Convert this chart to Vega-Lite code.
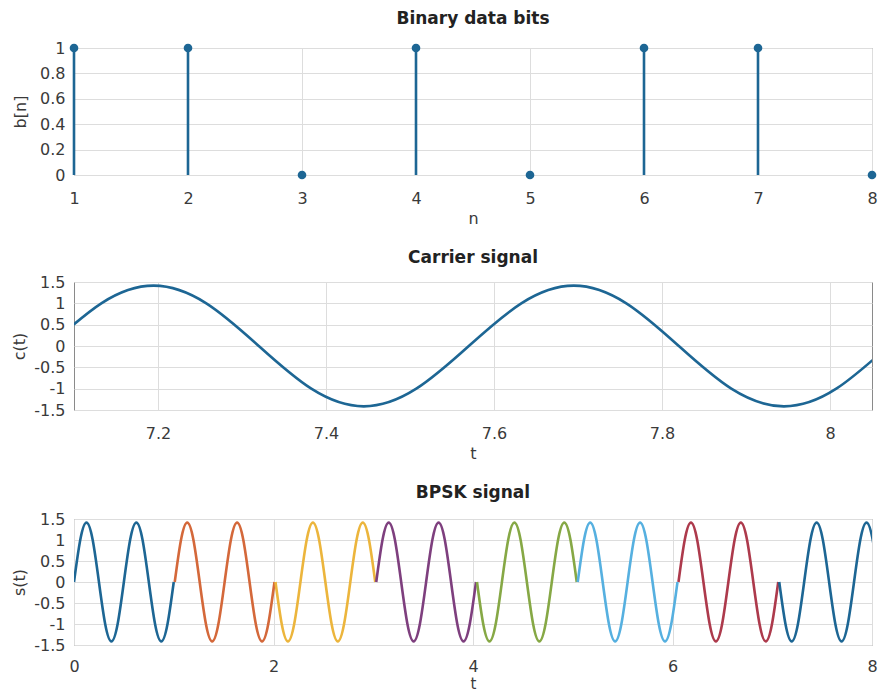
{
  "$schema": "https://vega.github.io/schema/vega-lite/v6.json",
  "padding": {"left": 11, "top": 9, "right": 4, "bottom": 0},
  "spacing": 21,
  "config": {
    "font": "DejaVu Sans",
    "view": {"stroke": "#8a8a8a", "strokeWidth": 1},
    "axis": {
      "labelFont": "DejaVu Sans", "labelFontSize": 16, "labelColor": "#3a3a3a",
      "titleFont": "DejaVu Sans", "titleFontSize": 16, "titleFontWeight": "normal", "titleColor": "#3a3a3a",
      "gridColor": "#dddddd", "gridWidth": 1, "domain": false, "ticks": false,
      "labelFlush": false, "labelOverlap": false
    },
    "axisX": {"labelPadding": 15, "titlePadding": 4},
    "axisY": {"labelPadding": 9},
    "title": {"font": "DejaVu Sans", "fontSize": 17, "fontWeight": "bold", "color": "#222222"}
  },
  "vconcat": [
    {
      "width": 798, "height": 127,
      "title": {"text": "Binary data bits", "offset": 12},
      "data": {"values": [
        {"n": 1, "b": 1}, {"n": 2, "b": 1}, {"n": 3, "b": 0}, {"n": 4, "b": 1},
        {"n": 5, "b": 0}, {"n": 6, "b": 1}, {"n": 7, "b": 1}, {"n": 8, "b": 0}
      ]},
      "encoding": {
        "x": {"field": "n", "type": "quantitative", "scale": {"domain": [1, 8], "nice": false},
              "axis": {"values": [1, 2, 3, 4, 5, 6, 7, 8], "title": "n"}},
        "y": {"field": "b", "type": "quantitative", "scale": {"domain": [0, 1], "nice": false},
              "axis": {"values": [0, 0.2, 0.4, 0.6, 0.8, 1], "labelExpr": "datum.value + ''", "title": "b[n]", "titlePadding": 11}}
      },
      "layer": [
        {"mark": {"type": "rule", "color": "#1d6694", "strokeWidth": 2.6}, "encoding": {"y2": {"datum": 0}}},
        {"mark": {"type": "point", "filled": true, "size": 75, "color": "#1d6694", "opacity": 1}}
      ]
    },
    {
      "width": 798, "height": 128,
      "title": {"text": "Carrier signal", "offset": 7},
      "data": {"values": [
        {"t": 7.0075, "c": -1}, {"t": 7.07, "c": 0}, {"t": 7.1325, "c": 1}, {"t": 7.195, "c": 1.414},
        {"t": 7.2575, "c": 1}, {"t": 7.32, "c": 0}, {"t": 7.3825, "c": -1}, {"t": 7.445, "c": -1.414},
        {"t": 7.5075, "c": -1}, {"t": 7.57, "c": 0}, {"t": 7.6325, "c": 1}, {"t": 7.695, "c": 1.414},
        {"t": 7.7575, "c": 1}, {"t": 7.82, "c": 0}, {"t": 7.8825, "c": -1}, {"t": 7.945, "c": -1.414},
        {"t": 8.0075, "c": -1}, {"t": 8.07, "c": 0}, {"t": 8.1325, "c": 1}
      ]},
      "mark": {"type": "line", "color": "#1d6694", "strokeWidth": 2.6, "interpolate": "natural", "clip": true},
      "encoding": {
        "x": {"field": "t", "type": "quantitative", "scale": {"domain": [7.1, 8.05], "nice": false, "zero": false},
              "axis": {"values": [7.2, 7.4, 7.6, 7.8, 8], "labelExpr": "datum.value + ''", "title": "t"}},
        "y": {"field": "c", "type": "quantitative", "scale": {"domain": [-1.5, 1.5], "nice": false},
              "axis": {"values": [-1.5, -1, -0.5, 0, 0.5, 1, 1.5], "labelExpr": "datum.value + ''", "title": "c(t)", "titlePadding": 6}}
      }
    },
    {
      "width": 798, "height": 126,
      "title": {"text": "BPSK signal", "offset": 9},
      "data": {"values": [
        {"seg": "1", "t": 0, "s": 0}, {"seg": "1", "t": 0.0625, "s": 1}, {"seg": "1", "t": 0.125, "s": 1.414}, {"seg": "1", "t": 0.1875, "s": 1},
        {"seg": "1", "t": 0.25, "s": 0}, {"seg": "1", "t": 0.3125, "s": -1}, {"seg": "1", "t": 0.375, "s": -1.414}, {"seg": "1", "t": 0.4375, "s": -1},
        {"seg": "1", "t": 0.5, "s": 0}, {"seg": "1", "t": 0.5625, "s": 1}, {"seg": "1", "t": 0.625, "s": 1.414}, {"seg": "1", "t": 0.6875, "s": 1},
        {"seg": "1", "t": 0.75, "s": 0}, {"seg": "1", "t": 0.8125, "s": -1}, {"seg": "1", "t": 0.875, "s": -1.414}, {"seg": "1", "t": 0.9375, "s": -1},
        {"seg": "1", "t": 1, "s": 0},

        {"seg": "2", "t": 1.01, "s": 0}, {"seg": "2", "t": 1.0725, "s": 1}, {"seg": "2", "t": 1.135, "s": 1.414}, {"seg": "2", "t": 1.1975, "s": 1},
        {"seg": "2", "t": 1.26, "s": 0}, {"seg": "2", "t": 1.3225, "s": -1}, {"seg": "2", "t": 1.385, "s": -1.414}, {"seg": "2", "t": 1.4475, "s": -1},
        {"seg": "2", "t": 1.51, "s": 0}, {"seg": "2", "t": 1.5725, "s": 1}, {"seg": "2", "t": 1.635, "s": 1.414}, {"seg": "2", "t": 1.6975, "s": 1},
        {"seg": "2", "t": 1.76, "s": 0}, {"seg": "2", "t": 1.8225, "s": -1}, {"seg": "2", "t": 1.885, "s": -1.414}, {"seg": "2", "t": 1.9475, "s": -1},
        {"seg": "2", "t": 2.01, "s": 0},

        {"seg": "3", "t": 2.02, "s": 0}, {"seg": "3", "t": 2.0825, "s": -1}, {"seg": "3", "t": 2.145, "s": -1.414}, {"seg": "3", "t": 2.2075, "s": -1},
        {"seg": "3", "t": 2.27, "s": 0}, {"seg": "3", "t": 2.3325, "s": 1}, {"seg": "3", "t": 2.395, "s": 1.414}, {"seg": "3", "t": 2.4575, "s": 1},
        {"seg": "3", "t": 2.52, "s": 0}, {"seg": "3", "t": 2.5825, "s": -1}, {"seg": "3", "t": 2.645, "s": -1.414}, {"seg": "3", "t": 2.7075, "s": -1},
        {"seg": "3", "t": 2.77, "s": 0}, {"seg": "3", "t": 2.8325, "s": 1}, {"seg": "3", "t": 2.895, "s": 1.414}, {"seg": "3", "t": 2.9575, "s": 1},
        {"seg": "3", "t": 3.02, "s": 0},

        {"seg": "4", "t": 3.03, "s": 0}, {"seg": "4", "t": 3.0925, "s": 1}, {"seg": "4", "t": 3.155, "s": 1.414}, {"seg": "4", "t": 3.2175, "s": 1},
        {"seg": "4", "t": 3.28, "s": 0}, {"seg": "4", "t": 3.3425, "s": -1}, {"seg": "4", "t": 3.405, "s": -1.414}, {"seg": "4", "t": 3.4675, "s": -1},
        {"seg": "4", "t": 3.53, "s": 0}, {"seg": "4", "t": 3.5925, "s": 1}, {"seg": "4", "t": 3.655, "s": 1.414}, {"seg": "4", "t": 3.7175, "s": 1},
        {"seg": "4", "t": 3.78, "s": 0}, {"seg": "4", "t": 3.8425, "s": -1}, {"seg": "4", "t": 3.905, "s": -1.414}, {"seg": "4", "t": 3.9675, "s": -1},
        {"seg": "4", "t": 4.03, "s": 0},

        {"seg": "5", "t": 4.04, "s": 0}, {"seg": "5", "t": 4.1025, "s": -1}, {"seg": "5", "t": 4.165, "s": -1.414}, {"seg": "5", "t": 4.2275, "s": -1},
        {"seg": "5", "t": 4.29, "s": 0}, {"seg": "5", "t": 4.3525, "s": 1}, {"seg": "5", "t": 4.415, "s": 1.414}, {"seg": "5", "t": 4.4775, "s": 1},
        {"seg": "5", "t": 4.54, "s": 0}, {"seg": "5", "t": 4.6025, "s": -1}, {"seg": "5", "t": 4.665, "s": -1.414}, {"seg": "5", "t": 4.7275, "s": -1},
        {"seg": "5", "t": 4.79, "s": 0}, {"seg": "5", "t": 4.8525, "s": 1}, {"seg": "5", "t": 4.915, "s": 1.414}, {"seg": "5", "t": 4.9775, "s": 1},
        {"seg": "5", "t": 5.04, "s": 0},

        {"seg": "6", "t": 5.05, "s": 0}, {"seg": "6", "t": 5.1125, "s": 1}, {"seg": "6", "t": 5.175, "s": 1.414}, {"seg": "6", "t": 5.2375, "s": 1},
        {"seg": "6", "t": 5.3, "s": 0}, {"seg": "6", "t": 5.3625, "s": -1}, {"seg": "6", "t": 5.425, "s": -1.414}, {"seg": "6", "t": 5.4875, "s": -1},
        {"seg": "6", "t": 5.55, "s": 0}, {"seg": "6", "t": 5.6125, "s": 1}, {"seg": "6", "t": 5.675, "s": 1.414}, {"seg": "6", "t": 5.7375, "s": 1},
        {"seg": "6", "t": 5.8, "s": 0}, {"seg": "6", "t": 5.8625, "s": -1}, {"seg": "6", "t": 5.925, "s": -1.414}, {"seg": "6", "t": 5.9875, "s": -1},
        {"seg": "6", "t": 6.05, "s": 0},

        {"seg": "7", "t": 6.06, "s": 0}, {"seg": "7", "t": 6.1225, "s": 1}, {"seg": "7", "t": 6.185, "s": 1.414}, {"seg": "7", "t": 6.2475, "s": 1},
        {"seg": "7", "t": 6.31, "s": 0}, {"seg": "7", "t": 6.3725, "s": -1}, {"seg": "7", "t": 6.435, "s": -1.414}, {"seg": "7", "t": 6.4975, "s": -1},
        {"seg": "7", "t": 6.56, "s": 0}, {"seg": "7", "t": 6.6225, "s": 1}, {"seg": "7", "t": 6.685, "s": 1.414}, {"seg": "7", "t": 6.7475, "s": 1},
        {"seg": "7", "t": 6.81, "s": 0}, {"seg": "7", "t": 6.8725, "s": -1}, {"seg": "7", "t": 6.935, "s": -1.414}, {"seg": "7", "t": 6.9975, "s": -1},
        {"seg": "7", "t": 7.06, "s": 0},

        {"seg": "8", "t": 7.07, "s": 0}, {"seg": "8", "t": 7.1325, "s": -1}, {"seg": "8", "t": 7.195, "s": -1.414}, {"seg": "8", "t": 7.2575, "s": -1},
        {"seg": "8", "t": 7.32, "s": 0}, {"seg": "8", "t": 7.3825, "s": 1}, {"seg": "8", "t": 7.445, "s": 1.414}, {"seg": "8", "t": 7.5075, "s": 1},
        {"seg": "8", "t": 7.57, "s": 0}, {"seg": "8", "t": 7.6325, "s": -1}, {"seg": "8", "t": 7.695, "s": -1.414}, {"seg": "8", "t": 7.7575, "s": -1},
        {"seg": "8", "t": 7.82, "s": 0}, {"seg": "8", "t": 7.8825, "s": 1}, {"seg": "8", "t": 7.945, "s": 1.414}, {"seg": "8", "t": 8.0075, "s": 1},
        {"seg": "8", "t": 8.07, "s": 0}
      ]},
      "mark": {"type": "line", "strokeWidth": 2.6, "interpolate": "natural", "clip": true},
      "encoding": {
        "x": {"field": "t", "type": "quantitative", "scale": {"domain": [0, 8], "nice": false},
              "axis": {"values": [0, 2, 4, 6, 8], "title": "t", "labelPadding": 13, "titlePadding": 2, "titleFontSize": 15}},
        "y": {"field": "s", "type": "quantitative", "scale": {"domain": [-1.5, 1.5], "nice": false},
              "axis": {"values": [-1.5, -1, -0.5, 0, 0.5, 1, 1.5], "labelExpr": "datum.value + ''", "title": "s(t)", "titlePadding": 6}},
        "color": {"field": "seg", "type": "nominal", "legend": null,
                  "scale": {"domain": ["1", "2", "3", "4", "5", "6", "7", "8"],
                            "range": ["#1d6694", "#d4683a", "#ecb53c", "#7e3f7e", "#86a845", "#56b0e0", "#ad3a4c", "#1d6694"]}},
        "order": {"field": "t", "type": "quantitative"}
      }
    }
  ]
}
